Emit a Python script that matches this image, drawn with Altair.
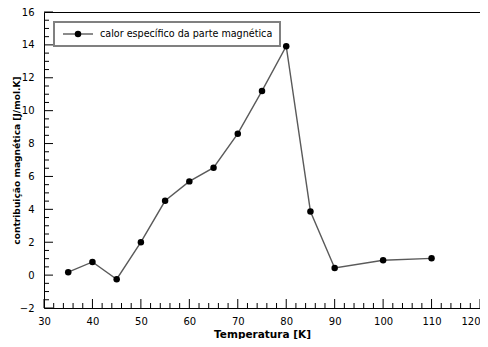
import altair as alt
import pandas as pd

temps = [35, 40, 45, 50, 55, 60, 65, 70, 75, 80, 85, 90, 100, 110]
cp_mag = [0.18, 0.8, -0.25, 2.0, 4.52, 5.7, 6.53, 8.6, 11.2, 13.92, 3.87, 0.43, 0.9, 1.02]
series_name = "calor específico da parte magnética"

x_major = [30, 40, 50, 60, 70, 80, 90, 100, 110, 120]
x_minor = [32, 34, 36, 38, 42, 44, 46, 48, 52, 54, 56, 58, 62, 64, 66, 68,
           72, 74, 76, 78, 82, 84, 86, 88, 92, 94, 96, 98, 102, 104, 106, 108,
           112, 114, 116, 118]
y_major = [-2, 0, 2, 4, 6, 8, 10, 12, 14, 16]
y_minor = [-1.5, -1, -0.5, 0.5, 1, 1.5, 2.5, 3, 3.5, 4.5, 5, 5.5, 6.5, 7, 7.5,
           8.5, 9, 9.5, 10.5, 11, 11.5, 12.5, 13, 13.5, 14.5, 15, 15.5]

W, H = 436, 296
FONT = "DejaVu Sans"

df = pd.DataFrame({"T": temps, "C": cp_mag})
xs = alt.Scale(domain=[30, 120], nice=False, zero=False)
ys = alt.Scale(domain=[-2, 16], nice=False, zero=False)

x_axis = alt.Axis(
    title="Temperatura [K]", values=x_major, tickSize=0, domain=False, grid=False,
    labelFont=FONT, labelFontSize=10, labelColor="#000", labelPadding=8,
    labelAlign=alt.ExprRef("datum.value == 120 ? 'right' : 'center'"),
    labelOverlap=False, labelFlush=False,
    titleFont=FONT, titleFontSize=10.5, titleFontWeight="bold", titleColor="#000",
    titlePadding=3)
y_axis = alt.Axis(
    title="contribuição magnética [J/mol.K]", values=y_major, tickSize=0, domain=False,
    grid=False, labelFont=FONT, labelFontSize=10, labelColor="#000", labelPadding=10,
    labelOverlap=False, labelFlush=False,
    titleFont=FONT, titleFontSize=9.1, titleFontWeight="bold", titleColor="#000",
    titlePadding=-2)

line = alt.Chart(df).mark_line(color="#5a5a5a", strokeWidth=1.4).encode(
    x=alt.X("T:Q", scale=xs, axis=x_axis), y=alt.Y("C:Q", scale=ys, axis=y_axis))
pts = alt.Chart(df).mark_point(filled=True, color="#000", size=42, opacity=1).encode(
    x=alt.X("T:Q", scale=xs, axis=x_axis), y=alt.Y("C:Q", scale=ys, axis=y_axis))

xmaj = alt.Chart(pd.DataFrame({"T": x_major})).mark_rule(color="#000", strokeWidth=1).encode(
    x=alt.X("T:Q", scale=xs, axis=x_axis), y=alt.value(H), y2=alt.value(H - 9))
xmin = alt.Chart(pd.DataFrame({"T": x_minor})).mark_rule(color="#000", strokeWidth=1).encode(
    x=alt.X("T:Q", scale=xs, axis=x_axis), y=alt.value(H), y2=alt.value(H - 5))
ymaj = alt.Chart(pd.DataFrame({"C": y_major})).mark_rule(color="#000", strokeWidth=1).encode(
    y=alt.Y("C:Q", scale=ys, axis=y_axis), x=alt.value(0), x2=alt.value(9))
ymin = alt.Chart(pd.DataFrame({"C": y_minor})).mark_rule(color="#000", strokeWidth=1).encode(
    y=alt.Y("C:Q", scale=ys, axis=y_axis), x=alt.value(0), x2=alt.value(5))

leg_df = pd.DataFrame({"label": [series_name]})
leg_box = alt.Chart(leg_df).mark_rect(fill="white", stroke="#808080", strokeWidth=2).encode(
    x=alt.value(10), x2=alt.value(236), y=alt.value(10), y2=alt.value(34))
leg_line = alt.Chart(leg_df).mark_rule(color="#5a5a5a", strokeWidth=1.4).encode(
    x=alt.value(19), x2=alt.value(49), y=alt.value(22))
leg_pt = alt.Chart(leg_df).mark_point(filled=True, color="#000", size=42, opacity=1).encode(
    x=alt.value(34), y=alt.value(22))
leg_txt = alt.Chart(leg_df).mark_text(align="left", baseline="middle", font=FONT,
                                       fontSize=9.6, color="#000").encode(
    x=alt.value(56), y=alt.value(22), text="label:N")

chart = alt.layer(line, pts, xmin, xmaj, ymin, ymaj, leg_box, leg_line, leg_pt, leg_txt).properties(
    width=W, height=H,
    background="white",
    autosize=alt.AutoSizeParams(type="none"),
    padding={"left": 36, "top": 4, "right": 0, "bottom": 31},
).configure_view(stroke="#000", strokeWidth=1)

chart.save("out.html", embed_options={"renderer": "svg", "actions": False})
